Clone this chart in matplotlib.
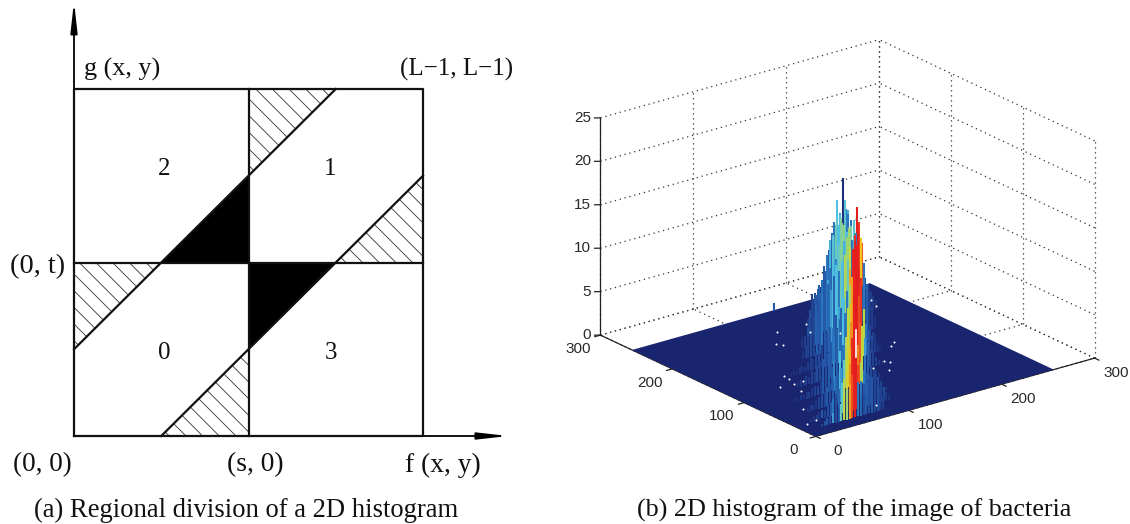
"""Two-panel figure: regional division sketch and 2D histogram of a bacteria image."""

import matplotlib
matplotlib.use("Agg")
import matplotlib.pyplot as plt
import numpy as np
from matplotlib.colors import LinearSegmentedColormap
from matplotlib.patches import FancyArrowPatch

W, H = 1130, 524

# panel (a): s = t = 1, L-1 = 2, band half width 0.5
BLACK_TRIANGLES = [[(0.5, 1), (1, 1), (1, 1.5)], [(1, 1), (1.5, 1), (1, 0.5)]]
HATCH_TRIANGLES = [
    [(1, 1.5), (1, 2), (1.5, 2)],
    [(1.5, 1), (2, 1), (2, 1.5)],
    [(0, 1), (0.5, 1), (0, 0.5)],
    [(0.5, 0), (1, 0), (1, 0.5)],
]
REGION_LINES = [
    ([0, 2, 2, 0, 0], [0, 0, 2, 2, 0]),
    ([1, 1], [0, 2]),
    ([0, 2], [1, 1]),
    ([0, 1.5], [0.5, 2]),
    ([0.5, 2], [0, 1.5]),
]
REGION_NUMBERS = [("2", 0.515, 1.54), ("1", 1.47, 1.54), ("0", 0.515, 0.48), ("3", 1.47, 0.48)]

# panel (b): histogram columns, one row per y bin, back to front
ROW_Y = [254, 220, 205, 190, 170, 150, 125, 100, 75, 50, 30, 15]
ROW_X = [
    [151],
    [166, 169, 172, 175, 178, 181, 184, 187, 190, 193, 196, 199, 202, 205, 208, 211, 214, 217, 220, 223, 226, 229],
    [157, 160, 163, 166, 169, 172, 175, 178, 181, 184, 187, 190, 193, 196, 199, 202, 205, 208, 211, 214, 217, 220, 223],
    [138, 141, 144, 147, 150, 153, 156, 159, 162, 165, 168, 171, 174, 177, 180, 183, 186, 189, 192, 195, 198, 201, 204, 207],
    [117, 120, 123, 126, 129, 132, 135, 138, 141, 144, 147, 150, 153, 156, 159, 162, 165, 168, 171, 174, 177, 180, 183, 186, 189, 192, 195],
    [102, 105, 108, 111, 114, 117, 120, 123, 126, 129, 132, 135, 138, 141, 144, 147, 150, 153, 156, 159, 162, 165, 168, 171, 174, 177, 180],
    [70, 73, 76, 79, 82, 85, 88, 91, 94, 97, 100, 103, 106, 109, 112, 115, 118, 121, 124, 127, 130, 133, 136, 139, 142, 145, 148, 151, 154, 157, 160, 163, 166],
    [58, 61, 64, 67, 70, 73, 76, 79, 82, 85, 88, 91, 94, 97, 100, 103, 106, 109, 112, 115, 118, 121, 124, 127, 130, 133, 136, 139, 142, 145, 148],
    [33, 36, 39, 42, 45, 48, 51, 54, 57, 60, 63, 66, 69, 72, 75, 78, 81, 84, 87, 90, 93, 96, 99, 102, 105, 108, 111, 114, 117, 120, 123, 126, 129],
    [30, 33, 36, 39, 42, 45, 48, 51, 54, 57, 60, 63, 66, 69, 72, 75, 78, 81, 84, 87, 90, 93, 96, 99, 102, 105, 108, 111, 114],
    [18, 21, 24, 27, 30, 33, 36, 39, 42, 45, 48, 51, 54, 57, 60, 63, 66, 69, 72, 75, 78, 81, 84, 87, 90, 93, 96, 99, 102],
    [18, 21, 24, 27, 30, 33, 36, 39, 42, 45, 48, 51, 54, 57, 60, 63, 66, 69, 72, 75, 78, 81, 84],
]
ROW_COUNT = [
    [0.9],
    [2.8, 2.9, 3.2, 3.4, 4.1, 5, 7.4, 9.3, 10.4, 12.9, 11.3, 15.2, 11.5, 11.3, 10.1, 9.8, 11.4, 7, 5, 3, 2.1, 1.2],
    [2.6, 3, 3.6, 4, 5.2, 6.5, 9, 9.6, 11.4, 12, 11, 13.5, 11.8, 10.4, 11, 9.4, 10.6, 8, 3.8, 3, 2.2, 1.6, 1],
    [2, 2.9, 4, 4.5, 5.5, 6, 7.6, 8.7, 10.4, 10.8, 11.9, 11.8, 12.5, 11.6, 10.7, 11.1, 9.6, 10.1, 11.2, 6.8, 4, 3.4, 2.4, 1.5],
    [1.2, 1.4, 2.2, 2.9, 3, 4.4, 4.8, 5.8, 6.4, 7.1, 8.4, 8.9, 9.2, 10.6, 10.2, 11, 11.4, 10.2, 9.4, 10.6, 9, 10.8, 7.8, 5.4, 3.6, 2.5, 1.4],
    [1, 1.5, 2.5, 2.5, 4.1, 4.6, 5, 6.2, 7.2, 7.8, 7, 8.6, 9.8, 9, 10, 10.6, 10, 8.8, 11, 11.4, 8.6, 4.9, 3.7, 2.6, 1.7, 0.9, 0.5],
    [0.3, 0.5, 0.4, 0.7, 0.9, 0.6, 1.1, 1.4, 1.2, 1.8, 2.1, 2.6, 2.8, 3.6, 4.4, 4.2, 5.6, 6.4, 6.2, 7.2, 8, 8.6, 9.4, 10, 10.4, 9, 5.4, 3.6, 2.8, 2, 1.4, 0.8, 0.4],
    [0.5, 0.8, 0.4, 1, 0.9, 1.4, 1.2, 1.8, 2.2, 2.5, 3.2, 3, 4.2, 4.8, 5.5, 6.5, 6, 7, 7.5, 8, 9, 9.5, 8.5, 5, 3.5, 3, 2, 1.8, 1, 0.6, 0.3],
    [0.2, 0.4, 0.3, 0.6, 0.5, 0.8, 0.7, 1, 1.2, 1.1, 1.6, 1.9, 1.8, 2.6, 2.8, 3.4, 3.8, 4.4, 5, 5.8, 6.6, 7.4, 7.8, 8.2, 7, 4.6, 3, 2.4, 1.8, 1.5, 1, 0.6, 0.3],
    [0.5, 0.7, 0.6, 1, 1.3, 1.5, 1.6, 2.2, 2.5, 2.8, 3.2, 3.6, 4, 4.8, 5.5, 6, 7, 7.5, 6, 4, 3, 2.6, 2.2, 1.7, 1.4, 1, 0.7, 0.4, 0.3],
    [0.3, 0.5, 0.6, 0.8, 1, 0.9, 1.4, 1.6, 1.9, 2.4, 2.8, 3.4, 3.8, 4.6, 5.4, 6, 6.4, 5, 3, 2.6, 2.8, 3, 3.2, 3.4, 3, 2.4, 1.6, 1, 0.5],
    [0.3, 0.5, 0.8, 1, 1.2, 1.3, 1.6, 2, 3, 3.5, 4, 5, 5.5, 4, 2.5, 2.4, 2.2, 3, 3.3, 3.2, 3, 2.5, 1.5],
]
ROW_SHADE = [
    [0.2],
    [0.16, 0.18, 0.2, 0.15, 0.2, 0.22, 0.2, 0.25, 0.3, 0.4, 0.35, 0.12, 0.3, 0.38, 0.3, 0.2, 0.92, 0.2, 0.18, 0.15, 0.15, 0.15],
    [0.15, 0.17, 0.2, 0.24, 0.18, 0.28, 0.22, 0.36, 0.44, 0.4, 0.5, 0.42, 0.3, 0.5, 0.42, 0.3, 0.86, 0.84, 0.2, 0.17, 0.15, 0.14, 0.13],
    [0.15, 0.18, 0.16, 0.2, 0.22, 0.28, 0.2, 0.3, 0.38, 0.42, 0.46, 0.4, 0.5, 0.52, 0.4, 0.55, 0.3, 0.88, 0.9, 0.25, 0.18, 0.16, 0.15, 0.14],
    [0.13, 0.15, 0.18, 0.16, 0.2, 0.24, 0.2, 0.3, 0.22, 0.36, 0.28, 0.4, 0.32, 0.46, 0.5, 0.38, 0.55, 0.62, 0.86, 0.92, 0.9, 0.7, 0.3, 0.22, 0.16, 0.15, 0.13],
    [0.13, 0.15, 0.16, 0.18, 0.17, 0.22, 0.2, 0.3, 0.2, 0.25, 0.35, 0.22, 0.4, 0.3, 0.4, 0.58, 0.45, 0.75, 0.9, 0.92, 0.88, 0.65, 0.3, 0.2, 0.16, 0.15, 0.13],
    [0.12, 0.13, 0.12, 0.14, 0.13, 0.14, 0.15, 0.16, 0.14, 0.17, 0.18, 0.16, 0.2, 0.18, 0.22, 0.3, 0.2, 0.36, 0.24, 0.4, 0.3, 0.56, 0.76, 0.9, 0.92, 0.88, 0.6, 0.3, 0.2, 0.17, 0.15, 0.13, 0.12],
    [0.13, 0.14, 0.13, 0.15, 0.14, 0.16, 0.15, 0.18, 0.17, 0.2, 0.18, 0.22, 0.2, 0.3, 0.22, 0.25, 0.4, 0.3, 0.6, 0.72, 0.9, 0.92, 0.85, 0.62, 0.35, 0.22, 0.18, 0.16, 0.15, 0.14, 0.13],
    [0.12, 0.13, 0.12, 0.14, 0.13, 0.14, 0.15, 0.14, 0.16, 0.17, 0.15, 0.2, 0.18, 0.22, 0.2, 0.32, 0.22, 0.4, 0.3, 0.56, 0.66, 0.78, 0.9, 0.92, 0.84, 0.6, 0.3, 0.2, 0.17, 0.15, 0.14, 0.13, 0.12],
    [0.13, 0.14, 0.15, 0.14, 0.16, 0.18, 0.17, 0.2, 0.18, 0.22, 0.25, 0.2, 0.35, 0.45, 0.6, 0.72, 0.88, 0.92, 0.8, 0.58, 0.3, 0.22, 0.2, 0.17, 0.16, 0.15, 0.14, 0.13, 0.13],
    [0.13, 0.14, 0.15, 0.14, 0.2, 0.16, 0.18, 0.2, 0.3, 0.18, 0.24, 0.42, 0.58, 0.66, 0.78, 0.9, 0.92, 0.86, 0.3, 0.2, 0.22, 0.18, 0.2, 0.17, 0.18, 0.16, 0.17, 0.14, 0.13],
    [0.15, 0.18, 0.2, 0.17, 0.35, 0.18, 0.2, 0.45, 0.6, 0.55, 0.75, 0.85, 0.92, 0.3, 0.25, 0.18, 0.2, 0.18, 0.2, 0.17, 0.18, 0.16, 0.15],
]
SPECK_X = [124, 105, 108, 145, 154, 165, 233, 228, 188, 180, 154, 156, 137, 145, 65, 64, 70, 60, 47, 55, 31, 12, 85, 24]
SPECK_Y = [214, 192, 186, 196, 213, 180, 224, 211, 134, 128, 104, 99, 98, 86, 128, 120, 109, 108, 111, 92, 58, 28, 26, 31]
FLOOR_MAX = 256
AXIS_MAX = 300
XY_TICKS = [0, 100, 200, 300]
Z_TICKS = [0, 5, 10, 15, 20, 25]
FLOOR_COLOR = "#1a2570"
GRID_COLOR = "#333333"
TEXT_COLOR = "#2a2a2a"
INK = "#111111"

# muted jet, as the scanned figure prints it
SHADES = LinearSegmentedColormap.from_list("muted_jet", [
    (0.0, "#1a2570"), (0.1, "#1a2570"), (0.2, "#2458a8"), (0.3, "#2a78c0"), (0.4, "#50c0e0"),
    (0.5, "#80d0a0"), (0.6, "#c0d840"), (0.7, "#f0c820"), (0.8, "#f08020"), (0.9, "#e82020"), (1.0, "#d01818"),
])

plt.rcParams["font.family"] = ["Liberation Serif", "DejaVu Serif"]
plt.rcParams["hatch.linewidth"] = 0.6


def px_text(fig, x, y, s, **kw):
    fig.text(x / W, 1 - y / H, s, va="center", **kw)


def draw_regions(fig):
    ax = fig.add_axes([74 / W, 1 - 436 / H, 349 / W, 347 / H])
    ax.set_xlim(0, 2)
    ax.set_ylim(0, 2)
    ax.set_xticks([])
    ax.set_yticks([])
    ax.axis("off")

    for tri in HATCH_TRIANGLES:
        ax.fill(*zip(*tri), facecolor="none", edgecolor="#333333", linewidth=0, hatch="\\\\")
    for tri in BLACK_TRIANGLES:
        ax.fill(*zip(*tri), color="black", linewidth=0)
    for xs, ys in REGION_LINES:
        ax.plot(xs, ys, color=INK, lw=1.6, clip_on=False, solid_capstyle="projecting")
    for s, x, y in REGION_NUMBERS:
        ax.text(x, y, s, ha="center", va="center", fontsize=18, color=INK)

    for tip in [(0, 2.505), (2.49, 0)]:
        ax.add_patch(FancyArrowPatch(
            (0, 0), tip, arrowstyle="-|>,head_length=18,head_width=2", mutation_scale=1,
            color="black", lw=1.3, shrinkA=0, shrinkB=0, clip_on=False,
        ))

    labels = [
        (84, 69, "g (x, y)", 18.8), (400, 69, "(L\u22121, L\u22121)", 18), (10, 267, "(0, t)", 20.5),
        (13, 465, "(0, 0)", 19.5), (227, 465, "(s, 0)", 19.8), (405, 465, "f (x, y)", 19.7),
    ]
    for x, y, s, size in labels:
        px_text(fig, x, y, s, ha="left", fontsize=size, color=INK)


def draw_histogram(fig):
    ax = fig.add_axes([573.3 / W, 11.8 / H, 534 / W, 534 / H], projection="3d", computed_zorder=False)
    ax.set_proj_type("ortho")
    ax.view_init(elev=21.3, azim=-127.7)
    ax.set_box_aspect((352, 352, 233))
    ax.set_xlim(0, AXIS_MAX)
    ax.set_ylim(0, AXIS_MAX)
    ax.set_zlim(0, Z_TICKS[-1])
    ax.set_xticks([])
    ax.set_yticks([])
    ax.set_zticks([])
    ax.set_axis_off()

    grid = dict(color=GRID_COLOR, lw=0.9, ls=(0, (1, 3)), zorder=1)
    for z in Z_TICKS:
        ax.plot([0, AXIS_MAX], [AXIS_MAX, AXIS_MAX], [z, z], **grid)
        ax.plot([AXIS_MAX, AXIS_MAX], [0, AXIS_MAX], [z, z], **grid)
    for t in XY_TICKS:
        ax.plot([t, t], [AXIS_MAX, AXIS_MAX], [0, Z_TICKS[-1]], **grid)
        ax.plot([AXIS_MAX, AXIS_MAX], [t, t], [0, Z_TICKS[-1]], **grid)
        ax.plot([t, t], [0, AXIS_MAX], [0, 0], **grid)
        ax.plot([0, AXIS_MAX], [t, t], [0, 0], **grid)

    axis = dict(color="#222222", lw=0.9, zorder=2)
    ax.plot([0, AXIS_MAX], [0, 0], [0, 0], **axis)
    ax.plot([0, 0], [0, AXIS_MAX], [0, 0], **axis)
    ax.plot([0, 0], [AXIS_MAX, AXIS_MAX], [0, Z_TICKS[-1]], **axis)
    tick_font = dict(ha="center", va="center", family="Liberation Sans", fontsize=11, color=TEXT_COLOR)
    for t in XY_TICKS:
        ax.plot([t, t], [0, -6], [0, 0], **axis)
        ax.plot([0, -6], [t, t], [0, 0], **axis)
        ax.text(t - 6, -38, 0, str(t), **tick_font)
        ax.text(-35, t - 14, 0, str(t), **tick_font)
    for z in Z_TICKS:
        ax.plot([0, -4], [AXIS_MAX, AXIS_MAX + 3], [z, z], **axis)
        ax.text(-6, AXIS_MAX + 5, z, str(z), **{**tick_font, "ha": "right"})

    floor_x, floor_y = np.meshgrid([0, FLOOR_MAX], [0, FLOOR_MAX])
    ax.plot_surface(floor_x, floor_y, np.zeros_like(floor_x), color=FLOOR_COLOR, shade=False, linewidth=0, zorder=3)

    order = 4
    for y, xs, counts, shades in zip(ROW_Y, ROW_X, ROW_COUNT, ROW_SHADE):
        for x, count, shade in zip(xs, counts, shades):
            ax.plot([x, x], [y, y], [0, count], color=SHADES(shade), lw=1.5, solid_capstyle="butt", zorder=order)
        order += 1

    ax.scatter(SPECK_X, SPECK_Y, [0] * len(SPECK_X), s=2.2, color="white", linewidths=0, depthshade=False, zorder=order)
    ax.plot([141, 141], [126, 126], [0, 3.1], color="white", lw=1.2, zorder=order)


def main():
    fig = plt.figure(figsize=(W / 100, H / 100), dpi=100)
    draw_regions(fig)
    draw_histogram(fig)
    px_text(fig, 34, 510, "(a) Regional division of a 2D histogram", ha="left", fontsize=19.2, color=INK)
    px_text(fig, 637, 510, "(b) 2D histogram of the image of bacteria", ha="left", fontsize=18.8, color=INK)
    fig.savefig("out.png", dpi=100)


if __name__ == "__main__":
    main()
